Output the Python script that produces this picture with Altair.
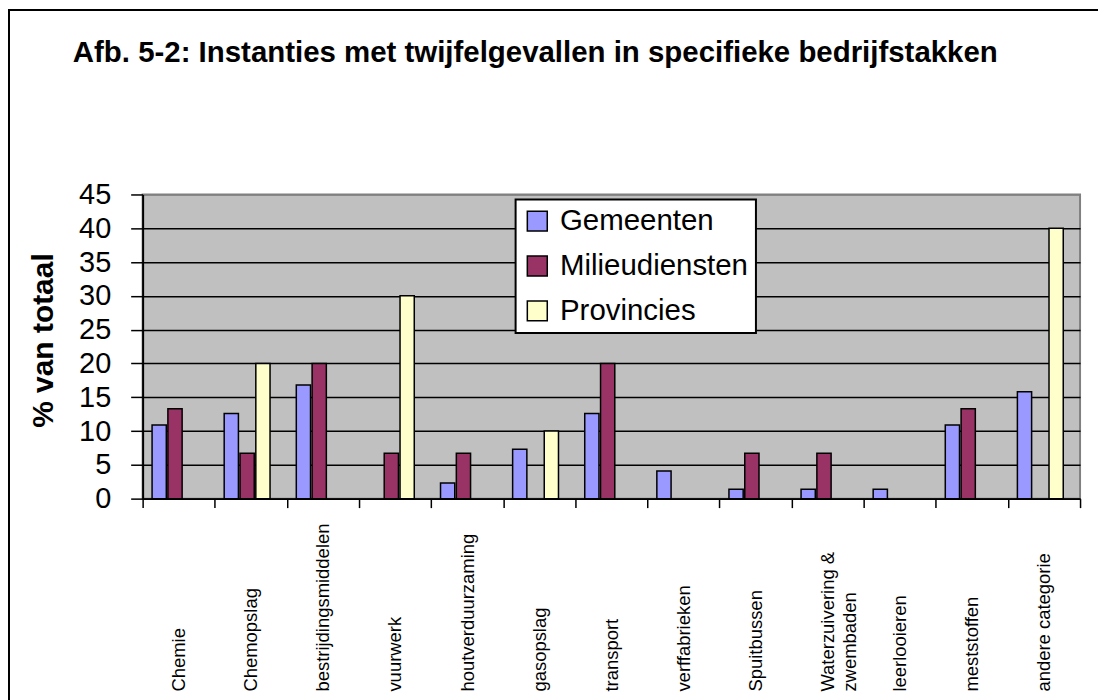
import altair as alt
import pandas as pd

categories = ["Chemie", "Chemopslag", "bestrijdingsmiddelen", "vuurwerk",
              "houtverduurzaming", "gasopslag", "transport", "verffabrieken",
              "Spuitbussen", "Waterzuivering  &|zwembaden", "leerlooieren",
              "meststoffen", "andere categorie"]
series = ["Gemeenten", "Milieudiensten", "Provincies"]
gemeenten = [10.9, 12.6, 16.8, None, 2.3, 7.3, 12.6, 4.1, 1.4, 1.4, 1.4, 10.9, 15.8]
milieudiensten = [13.3, 6.7, 20.0, 6.7, 6.7, None, 20.0, None, 6.7, 6.7, None, 13.3, None]
provincies = [None, 20.0, None, 30.0, None, 10.0, None, None, None, None, None, None, 40.0]
y_ticks = [0, 5, 10, 15, 20, 25, 30, 35, 40, 45]
colors = ["#9999FF", "#993366", "#FFFFCC"]

rows = []
for s, vals in zip(series, [gemeenten, milieudiensten, provincies]):
    for c, v in zip(categories, vals):
        if v is not None:
            rows.append({"cat": c, "serie": s, "val": v})
df = pd.DataFrame(rows)

FONT = "Liberation Sans"

bars = alt.Chart(df).mark_bar(stroke="black", strokeWidth=1.5).encode(
    x=alt.X("cat:N", sort=categories,
            scale=alt.Scale(domain=categories, paddingInner=0, paddingOuter=0),
            axis=alt.Axis(title=None, labelAngle=270, labelAlign="left", labelBaseline="middle",
                          labelPadding=184, labelFont=FONT, labelFontSize=18.5, labelColor="black",
                          labelExpr="split(datum.label, '|')", labelLineHeight=22,
                          tickBand="extent", tickSize=9, tickColor="black", tickWidth=1.5,
                          domainColor="black", domainWidth=2, grid=False, labelLimit=400)),
    xOffset=alt.XOffset("serie:N", scale=alt.Scale(domain=series, paddingInner=0.1,
                                                   paddingOuter=0.83, align=0.36)),
    y=alt.Y("val:Q", scale=alt.Scale(domain=[0, 45], nice=False),
            axis=alt.Axis(values=y_ticks, title="% van totaal", titleFont=FONT, titleFontSize=30,
                          titleFontWeight="bold", titleColor="black", titleAngle=270,
                          titleX=-90, titleY=146, titleBaseline="alphabetic", titleAlign="center",
                          labelFont=FONT, labelFontSize=29, labelColor="black", labelPadding=20,
                          tickSize=12, tickColor="black", tickWidth=1.5,
                          domainColor="black", domainWidth=2,
                          grid=True, gridWidth=1.5,
                          gridColor={"condition": {"test": "datum.value === 45", "value": "#808080"},
                                     "value": "black"})),
    color=alt.Color("serie:N", scale=alt.Scale(domain=series, range=colors),
                    legend=alt.Legend(title=None, orient="none", legendX=374, legendY=5,
                                      fillColor="white", strokeColor="black", padding=7,
                                      symbolType="square", symbolSize=400,
                                      symbolStrokeColor="black", symbolStrokeWidth=1.5,
                                      labelFont=FONT, labelFontSize=29.5, labelColor="black",
                                      labelOffset=8, rowPadding=14, labelLimit=400)),
)

frame = alt.Chart(pd.DataFrame({"k": [0]})).mark_rect(
    fillOpacity=0, stroke="black", strokeWidth=2
).encode(x=alt.value(-134), x2=alt.value(960), y=alt.value(-185), y2=alt.value(524))

chart = alt.layer(frame, bars).properties(
    width=940, height=305,
    autosize=alt.AutoSizeParams(type="none"),
    padding={"left": 135, "top": 186, "right": 18, "bottom": 220},
    title=alt.TitleParams(text="Afb. 5-2: Instanties met twijfelgevallen in specifieke bedrijfstakken",
                          anchor="start", frame="group", dx=-70, offset=-83, baseline="alphabetic",
                          font=FONT, fontSize=29.5, fontWeight="bold", color="black"),
).configure_view(
    fill="#C0C0C0", stroke="#808080", strokeWidth=2
).configure_legend(strokeWidth=2)

chart.save("out.html", embed_options={"renderer": "svg", "actions": False})
